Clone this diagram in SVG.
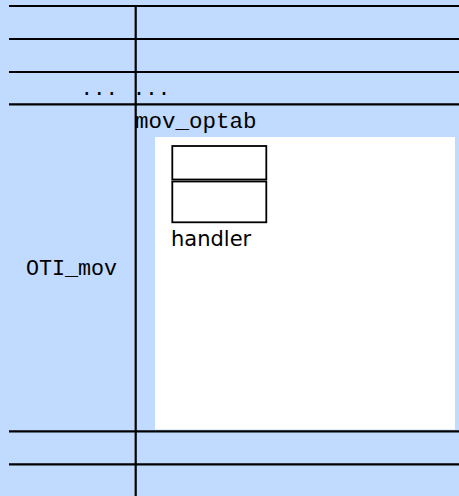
<svg xmlns="http://www.w3.org/2000/svg" width="459" height="496" viewBox="0 0 459 496">
<style>
.rule{stroke:#000;stroke-width:2.2;fill:none}
.tt{font-family:"Liberation Mono","DejaVu Sans Mono",monospace;fill:#000}
.sf{font-family:"DejaVu Sans","Liberation Sans",sans-serif;fill:#000}
.box{fill:#fff;stroke:#000;stroke-width:1.8}
</style>
<rect x="0" y="0" width="459" height="496" fill="#c1daff"/>
<g id="table-grid">
<line class="rule" x1="9" y1="6" x2="459" y2="6"/>
<line class="rule" x1="9" y1="39" x2="459" y2="39"/>
<line class="rule" x1="9" y1="72" x2="459" y2="72"/>
<line class="rule" x1="9" y1="104.3" x2="459" y2="104.3"/>
<line class="rule" x1="9" y1="431.3" x2="459" y2="431.3"/>
<line class="rule" x1="9" y1="464.3" x2="459" y2="464.3"/>
<line class="rule" x1="135.7" y1="5" x2="135.7" y2="496"/>
</g>
<g id="dots-row">
<text class="tt" x="80.5" y="95" font-size="20.8">...</text>
<text class="tt" x="132.7" y="95" font-size="20.8">...</text>
</g>
<g id="oti-mov">
<text class="tt" x="26" y="275" font-size="21.7">OTI_mov</text>
</g>
<g id="mov-optab">
<text class="tt" x="135" y="127.5" font-size="22.5">mov_optab</text>
<rect x="155" y="137" width="300" height="292.5" fill="#fff"/>
<rect class="box" x="172.3" y="146" width="94" height="33.5"/>
<rect class="box" x="172.3" y="181.5" width="94" height="40.8"/>
<text class="sf" x="171" y="246" font-size="21">handler</text>
</g>
</svg>
